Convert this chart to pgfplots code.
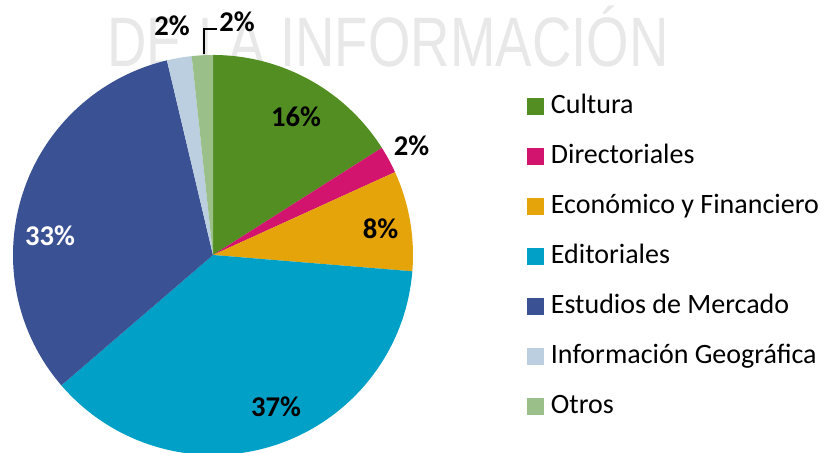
\documentclass[border=0pt]{standalone}
\usepackage{graphicx}
\usepackage{pgfplots}
\usepackage{pgfplotstable}
\pgfplotsset{compat=1.18}
\usepackage{fontspec}
\setmainfont{Carlito}
\newfontfamily\wmfont{Liberation Sans}
\definecolor{cCul}{RGB}{82,142,34}
\definecolor{cDir}{RGB}{210,20,110}
\definecolor{cEco}{RGB}{229,164,10}
\definecolor{cEdi}{RGB}{0,160,199}
\definecolor{cEst}{RGB}{58,82,148}
\definecolor{cGeo}{RGB}{188,207,225}
\definecolor{cOtr}{RGB}{155,191,137}
\newcommand\labfont{\bfseries\fontsize{14.3}{17}\selectfont}
% value = share in percent; lx, ly = label position in picture pixels (y down)
\pgfplotstableread[col sep=comma]{
name,value,col,lx,ly,tcol
Cultura,16.0,cCul,296,117,black
Directoriales,2.2,cDir,411.5,145.5,black
Económico y Financiero,8.1,cEco,380.5,228.7,black
Editoriales,37.4,cEdi,276,407,black
Estudios de Mercado,32.6,cEst,50,236,white
Información Geográfica,2.0,cGeo,172,26,black
Otros,1.7,cOtr,237,21.3,black
}\pietable
\begin{document}
\begin{tikzpicture}
\begin{axis}[name=ax, hide axis, x=0.5pt, y=0.5pt,
  xmin=0, xmax=825, ymin=0, ymax=453,
  legend cell align=left,
  legend style={at={(axis cs:526.7,359.7)}, anchor=north west, draw=none, fill=none,
    inner sep=0pt, outer sep=0pt, row sep=12.05pt,
    font=\fontsize{14}{17}\selectfont,
    nodes={inner sep=0pt, text height=10pt, text depth=3pt},
    /tikz/every odd column/.append style={column sep=3.7pt}},
]
\node[text=black!9, font=\wmfont\fontsize{35}{40}\selectfont, anchor=base west, inner sep=0pt]
  at (axis cs:107,386) {\scalebox{0.78}[1]{DE LA INFORMACIÓN}};
\def\startangle{90}
\pgfplotsforeachungrouped \i in {0,...,6}{%
  \pgfplotstablegetelem{\i}{value}\of\pietable \let\v\pgfplotsretval
  \pgfplotstablegetelem{\i}{col}\of\pietable \let\c\pgfplotsretval
  \pgfplotstablegetelem{\i}{lx}\of\pietable \let\lx\pgfplotsretval
  \pgfplotstablegetelem{\i}{ly}\of\pietable \let\ly\pgfplotsretval
  \pgfplotstablegetelem{\i}{tcol}\of\pietable \let\tc\pgfplotsretval
  \pgfplotstablegetelem{\i}{name}\of\pietable \let\nm\pgfplotsretval
  \pgfmathsetmacro\endangle{\startangle-3.6*\v}
  \pgfmathtruncatemacro\pct{round(\v)}
  \pgfmathsetmacro\laby{453-\ly}
  \edef\temp{%
    \noexpand\fill[\c] (axis cs:213,198) -- ++(\startangle:100pt)
      arc[start angle=\startangle, end angle=\endangle, radius=100pt] -- cycle;
    \noexpand\node[text=\tc, font=\noexpand\labfont] at (axis cs:\lx,\laby) {\pct\noexpand\%};
    \noexpand\addlegendimage{legend image code/.code={\noexpand\fill[\c] (0pt,-4pt) rectangle (8pt,4pt);}}
    \noexpand\addlegendentry{\nm}%
  }%
  \temp
  \let\startangle\endangle
}
\draw[black, line width=0.8pt] (axis cs:204,398.7) -- (axis cs:204,423.7) -- (axis cs:216.7,423.7);
\end{axis}
\pgfresetboundingbox
\path (ax.south west) rectangle (ax.north east);
\end{tikzpicture}
\end{document}
